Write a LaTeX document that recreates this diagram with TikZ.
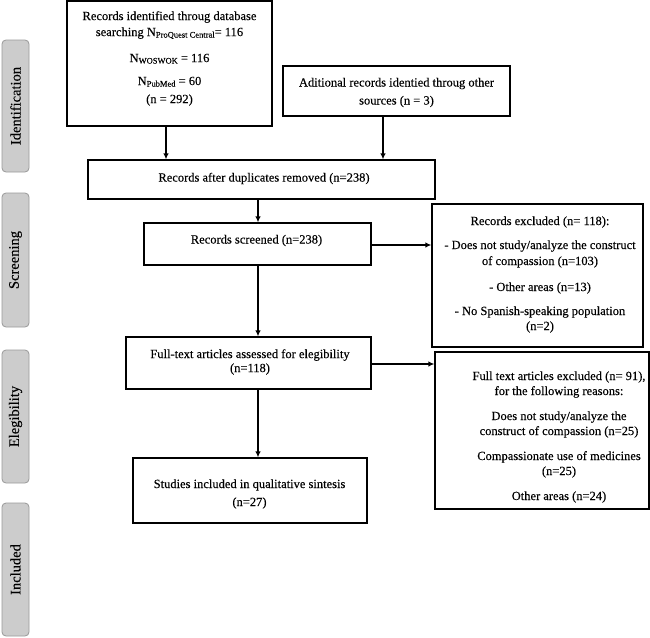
\documentclass[tikz,border=0pt]{standalone}
\usepackage{fontspec}
\setmainfont{Liberation Serif}[FakeBold=0.25]
\usetikzlibrary{arrows.meta,calc}
\tikzset{
  box/.style={draw=black, line width=1.2pt, inner sep=0pt, fill=white},
  txt/.style={align=center, inner sep=0pt, font=\fontsize{12.5}{15}\selectfont},
  phase/.style={draw=black!40, fill=black!20, rounded corners=4pt, line width=0.8pt, inner sep=0pt},
  phasetxt/.style={rotate=90, inner sep=0pt, font=\fontsize{14.5}{16}\selectfont},
  arr/.style={line width=1.2pt, -{Latex[length=6pt,width=5.5pt]}}
}
\newcommand{\subsm}[1]{\raisebox{-1.5pt}{\fontsize{8.5}{9}\selectfont #1}}
\begin{document}
\begin{tikzpicture}[x=1pt,y=-1pt]
\useasboundingbox (0,0) rectangle (650,637);
% phase labels
\node[phase, minimum width=27, minimum height=132] (p1) at (15.5,106) {};
\node[phasetxt] (p1t) at (p1.center) {Identification};
\node[phase, minimum width=27, minimum height=134] (p2) at (15.5,260) {};
\node[phasetxt] (p2t) at (p2.center) {Screening};
\node[phase, minimum width=27, minimum height=133] (p3) at (15.5,416.5) {};
\node[phasetxt] (p3t) at (p3.center) {Elegibility};
\node[phase, minimum width=27, minimum height=133] (p4) at (15.5,569.5) {};
\node[phasetxt] (p4t) at (p4.center) {Included};
% boxes
\node[box, minimum width=205, minimum height=125] (b1) at (169.5,63.5) {};
\node[box, minimum width=227, minimum height=50] (b2) at (396.5,91) {};
\node[box, minimum width=347, minimum height=39] (b3) at (261.5,179.5) {};
\node[box, minimum width=227, minimum height=42] (b4) at (257.5,244) {};
\node[box, minimum width=245, minimum height=52] (b5) at (248.5,363) {};
\node[box, minimum width=234, minimum height=65] (b6) at (250,490.5) {};
\node[box, minimum width=211, minimum height=143] (e1) at (537.5,275.5) {};
\node[box, minimum width=214, minimum height=157] (e2) at (542,430.5) {};
% texts
\node[txt] (t1) at (169.5,58.5) {Records identified throug database\\[1pt]
searching N\subsm{ProQuest Central}= 116\\[11pt]
N\subsm{WOSWOK} = 116\\[8pt]
N\subsm{PubMed} = 60\\[3pt]
(n = 292)};
\node[txt] (t2) at (396.5,92.5) {Aditional records identied throug other\\[3pt] sources (n = 3)};
\node[txt] (t3) at (264,178.5) {Records after duplicates removed (n=238)};
\node[txt] (t4) at (256.5,240.5) {Records screened (n=238)};
\node[txt] (t5) at (250,362) {Full-text articles assessed for elegibility\\[-1pt] (n=118)};
\node[txt] (t6) at (249.5,494) {Studies included in qualitative sintesis\\[3pt] (n=27)};
\node[txt] (te1) at (540,274.5) {Records excluded (n= 118):\\[9pt]
- Does not study/analyze the construct\\[1pt]
of compassion (n=103)\\[11pt]
- Other areas (n=13)\\[9pt]
- No Spanish-speaking population\\
(n=2)};
\node[txt] (te2) at (559,437) {Full text articles excluded (n= 91),\\
for the following reasons:\\[10pt]
Does not study/analyze the\\
construct of compassion (n=25)\\[10pt]
Compassionate use of medicines\\
(n=25)\\[10pt]
Other areas (n=24)};
% connectors
\draw[arr] ([xshift=-3.5pt]b1.south) -- ([xshift=-3.5pt]b1.south |- b3.north);
\draw[arr] ([xshift=-13.5pt]b2.south) -- ([xshift=-13.5pt]b2.south |- b3.north);
\draw[arr] ([xshift=0.5pt]b4.north |- b3.south) -- ([xshift=0.5pt]b4.north);
\draw[arr] ([xshift=0.5pt]b4.south) -- ([xshift=0.5pt]b4.south |- b5.north);
\draw[arr] ([xshift=0.5pt]b4.south |- b5.south) -- ([xshift=0.5pt]b4.south |- b6.north);
\draw[arr] ([yshift=-1pt]b4.east) -- ([yshift=-1pt]b4.east -| e1.west);
\draw[arr] ([yshift=-1pt]b5.east) -- ([yshift=-1pt]b5.east -| e2.west);
\end{tikzpicture}
\end{document}
